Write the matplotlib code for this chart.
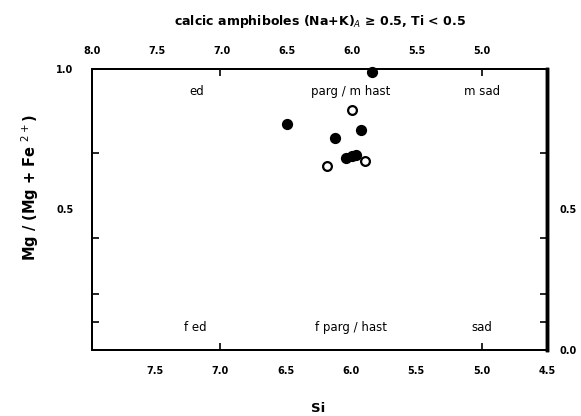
import numpy as np
import matplotlib
matplotlib.use("Agg")
import matplotlib.pyplot as plt

plt.rcParams["font.family"] = ["DejaVu Sans"]

# data: Si vs Mg/(Mg+Fe2+)
si_filled = [5.836, 6.491, 5.925, 6.124, 6.035, 5.995, 5.961]
mg_filled = [0.988, 0.803, 0.783, 0.755, 0.683, 0.689, 0.694]
si_open = [5.989, 5.892, 6.183]
mg_open = [0.854, 0.671, 0.653]

# field labels
field_names = ["ed", "parg / m hast", "m sad", "f ed", "f parg / hast", "sad"]
field_x = [7.18, 6.0, 5.0, 7.19, 6.0, 5.0]
field_y = [0.919, 0.919, 0.919, 0.082, 0.082, 0.082]

bottom_ticks = [7.5, 7.0, 6.5, 6.0, 5.5, 5.0, 4.5]
top_ticks = [8.0, 7.5, 7.0, 6.5, 6.0, 5.5, 5.0]
x_marks = [7.0, 5.0]
left_ticks = [1.0, 0.5]
right_ticks = [0.5, 0.0]
y_marks = [0.1, 0.2, 0.4, 0.7]

fig = plt.figure(figsize=(5.81, 4.16), dpi=100)
ax = fig.add_axes([0.1578, 0.1575, 0.7837, 0.6778])
ax.set_xlim(7.983, 4.5)
ax.set_ylim(0, 1.0)

ax.scatter(si_filled, mg_filled, s=50, c="black", edgecolors="black", zorder=3, clip_on=False)
ax.scatter(si_open, mg_open, s=40, facecolors="white", edgecolors="black", linewidths=1.6, zorder=3)

for name, x, y in zip(field_names, field_x, field_y):
    ax.text(x, y, name, fontsize=8.5, ha="center", va="center")

tick_font = dict(fontsize=7, fontweight="bold")

# top axis
axt = ax.twiny()
axt.set_xlim(ax.get_xlim())
axt.set_xticks(top_ticks)
axt.set_xticklabels([f"{t:.1f}" for t in top_ticks], **tick_font)
axt.tick_params(which="major", length=0, pad=9)

# right axis
axr = ax.twinx()
axr.set_ylim(ax.get_ylim())
axr.set_yticks(right_ticks)
axr.set_yticklabels([f"{t:.1f}" for t in right_ticks], **tick_font)
axr.tick_params(which="major", length=0, pad=9)

# bottom / left
ax.xaxis.remove_overlapping_locs = False
ax.set_xticks(bottom_ticks)
ax.set_xticklabels([f"{t:.1f}" for t in bottom_ticks], **tick_font)
ax.set_xticks(x_marks, minor=True)
ax.set_yticks(left_ticks)
ax.set_yticklabels([f"{t:.1f}" for t in left_ticks], **tick_font)
ax.set_yticks(y_marks, minor=True)
ax.tick_params(which="major", length=0)
ax.tick_params(axis="x", which="major", pad=11)
ax.tick_params(axis="y", which="major", pad=13)
ax.tick_params(which="minor", direction="in", length=5, width=1.2,
               top=True, right=True, bottom=True, left=True)

for a in (ax, axt, axr):
    for side in ("left", "top", "bottom"):
        a.spines[side].set_linewidth(1.3)
    a.spines["right"].set_linewidth(2.4)

fig.text(320 / 581, 1 - 21 / 416, "calcic amphiboles (Na+K)$_{A}$ \u2265 0.5, Ti < 0.5",
         fontsize=9, fontweight="bold", ha="center", va="center")
fig.text(30 / 581, 1 - 188 / 416, "Mg / (Mg + Fe $^{2+}$)", rotation=90,
         fontsize=10.5, fontweight="bold", ha="center", va="center")
fig.text(318 / 581, 1 - 408 / 416, "Si", fontsize=9.5, fontweight="bold",
         ha="center", va="center")

fig.savefig("out.png", dpi=100)
